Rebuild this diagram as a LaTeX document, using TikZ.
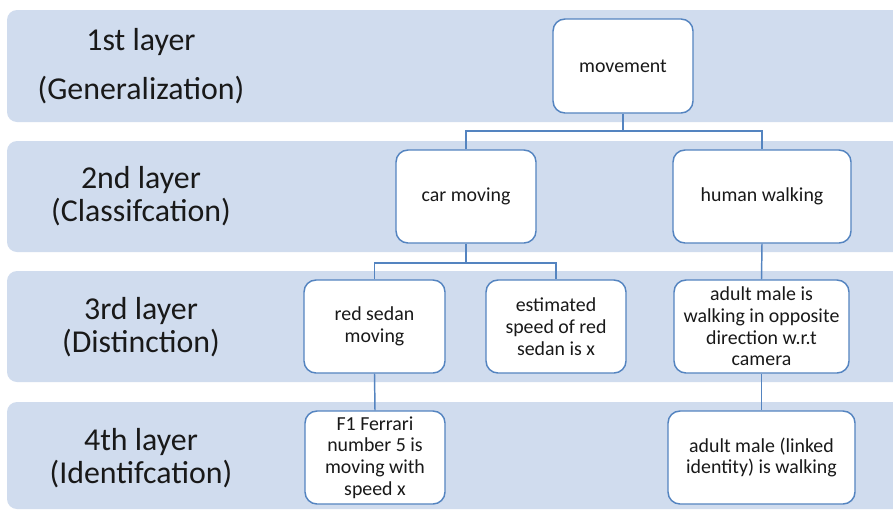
\documentclass[tikz,border=0pt]{standalone}
\usepackage{fontspec}
\setmainfont{Carlito}
\definecolor{bandfill}{RGB}{208,220,238}
\definecolor{boxline}{RGB}{84,132,192}
\begin{document}
\begin{tikzpicture}[x=0.75pt,y=-0.75pt,
  band/.style={fill=bandfill,draw=none,rounded corners=7.5pt},
  layerlabel/.style={font=\fontsize{23.9pt}{25pt}\selectfont,align=center,text=black!90},
  itembox/.style={draw=boxline,line width=1.1pt,fill=white,rounded corners=9pt,
    align=center,inner sep=0pt,minimum height=69.75pt,
    font=\fontsize{14.9pt}{16.3pt}\selectfont,text=black!90},
  link/.style={draw=boxline,line width=1.1pt}]
\useasboundingbox (0,0) rectangle (893,511);
\fill[white] (0,0) rectangle (893,511);

% horizontal layer bands, running off the right edge
\begin{scope}
\clip (0,0) rectangle (893,511);
\path[band] (7,10) rectangle (920,122);
\path[band] (7,141) rectangle (920,252);
\path[band] (7,271) rectangle (920,382);
\path[band] (7,402) rectangle (920,509);
\end{scope}

% layer names
\node[layerlabel] (l1a) at (141,42) {1st layer};
\node[layerlabel] (l1b) at (141,90) {(Generalization)};
\node[layerlabel] (l2) at (141,196) {2nd layer\\(Classifcation)};
\node[layerlabel] (l3) at (141,327) {3rd layer\\(Distinction)};
\node[layerlabel] (l4) at (141,458) {4th layer\\(Identifcation)};

% hierarchy boxes
\node[itembox,minimum width=105pt,minimum height=70.5pt] (mv) at (623,66) {movement};
\node[itembox,minimum width=105pt] (car) at (466,196.5) {car moving};
\node[itembox,minimum width=133.5pt] (hum) at (762,196.5) {human walking};
\node[itembox,minimum width=105.75pt] (red) at (374.5,326.5) {red sedan\\moving};
\node[itembox,minimum width=105pt] (est) at (556,326.5) {estimated\\speed of red\\sedan is x};
\node[itembox,minimum width=131.25pt] (adu) at (761.5,326.5) {adult male is\\walking in opposite\\direction w.r.t\\camera};
\node[itembox,minimum width=105pt] (f1) at (375,457.5) {F1 Ferrari\\number 5 is\\moving with\\speed x};
\node[itembox,minimum width=140.25pt] (lnk) at (761.5,457.5) {adult male (linked\\identity) is walking};

% junction points of the elbow connectors
\coordinate (j1) at (623,131);
\coordinate (j2) at (466,263);

% connectors
\draw[link] (mv.south) -- (j1);
\draw[link] (car.north) |- (j1) -| (hum.north);
\draw[link] (car.south) -- (j2);
\draw[link] (red.north) |- (j2) -| (est.north);
\draw[link] (hum.south) -- (adu.north);
\draw[link] (red.south) -- (f1.north);
\draw[link] (adu.south) -- (lnk.north);
\end{tikzpicture}
\end{document}
